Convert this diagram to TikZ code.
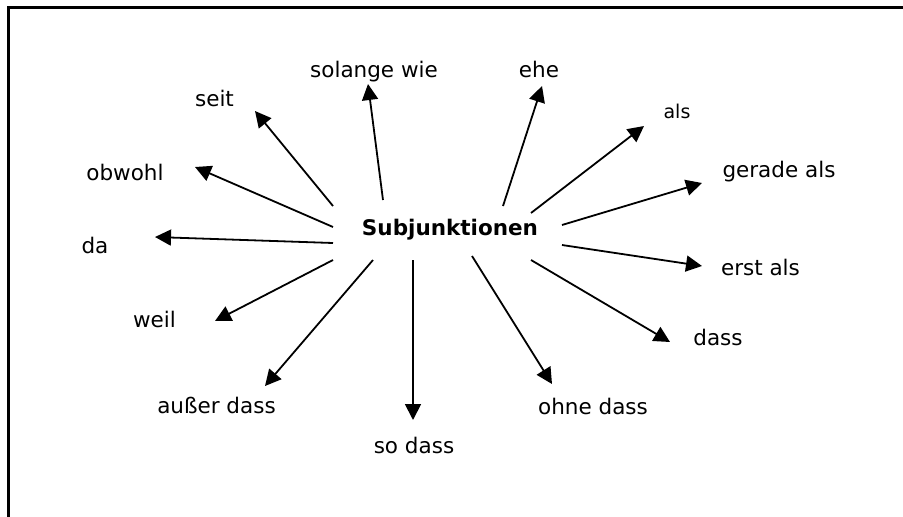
\documentclass[tikz,border=0pt]{standalone}
\usepackage{fontspec}
\setmainfont{DejaVu Sans}
\usetikzlibrary{arrows.meta}
\tikzset{
  lbl/.style={inner sep=0pt, anchor=base, font=\fontsize{21.5}{26}\selectfont},
  small/.style={inner sep=0pt, anchor=base, font=\fontsize{19}{23}\selectfont},
  hub/.style={inner sep=0pt, anchor=base, font=\fontsize{21.5}{26}\selectfont\bfseries},
  arr/.style={line width=1.8pt, -{Triangle[length=16pt,width=16pt]}},
  frame/.style={line width=2.5pt}
}
\begin{document}
\begin{tikzpicture}[x=1pt,y=-1pt]
\useasboundingbox (0,0) rectangle (903,517);
\coordinate (fr1) at (903,7.3);
\coordinate (fr2) at (8.7,7.3);
\coordinate (fr3) at (8.7,517);
\draw[frame] (fr1) -- (fr2) -- (fr3);

\node[hub] (hub) at (450,235) {Subjunktionen};

\node[lbl] (solange) at (374,77) {solange wie};
\node[lbl] (ehe) at (539,77) {ehe};
\node[lbl] (seit) at (214.5,106) {seit};
\node[lbl] (obwohl) at (125,180) {obwohl};
\node[lbl] (da) at (95,253) {da};
\node[lbl] (weil) at (154.5,327) {weil};
\node[lbl] (ausser) at (216.5,413) {außer dass};
\node[lbl] (sodass) at (414,453) {so dass};
\node[lbl] (ohne) at (593,414) {ohne dass};
\node[lbl] (dass) at (718,345) {dass};
\node[lbl] (erst) at (760.5,275) {erst als};
\node[lbl] (gerade) at (779,177) {gerade als};
\node[small] (als) at (677,118) {als};

% tails and tips
\coordinate (t1) at (383,200);   \coordinate (h1) at (368,84);
\coordinate (t2) at (503,206);   \coordinate (h2) at (542,86);
\coordinate (t3) at (333,206);   \coordinate (h3) at (255,111);
\coordinate (t4) at (333,227);   \coordinate (h4) at (195,167);
\coordinate (t5) at (333,243);   \coordinate (h5) at (155,237);
\coordinate (t6) at (333,260);   \coordinate (h6) at (215,321);
\coordinate (t7) at (373,260);   \coordinate (h7) at (265,386);
\coordinate (t8) at (413,260);   \coordinate (h8) at (413,420);
\coordinate (t9) at (472,256);   \coordinate (h9) at (552,384);
\coordinate (t10) at (531,260);  \coordinate (h10) at (670,342);
\coordinate (t11) at (562,245);  \coordinate (h11) at (702,266);
\coordinate (t12) at (562,225);  \coordinate (h12) at (702,183);
\coordinate (t13) at (531,213);  \coordinate (h13) at (644,126);

\foreach \i in {1,...,13} {\draw[arr] (t\i) -- (h\i);}
\end{tikzpicture}
\end{document}
